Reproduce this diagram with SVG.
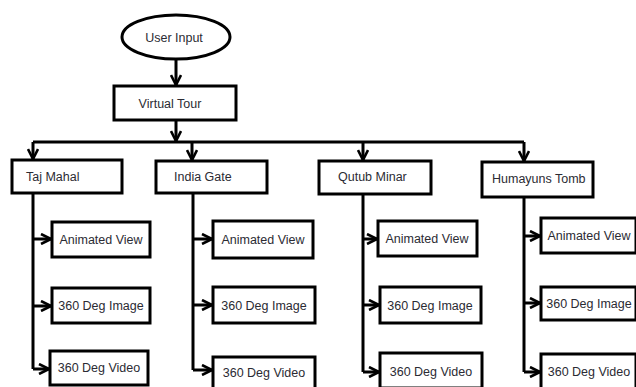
<svg xmlns="http://www.w3.org/2000/svg" width="636" height="387" viewBox="0 0 636 387">
<defs>
<marker id="arr" viewBox="0 0 12 12" refX="11" refY="6" markerWidth="12" markerHeight="12" markerUnits="userSpaceOnUse" orient="auto">
<path d="M1,1 L11,6 L1,11" fill="none" stroke="#000" stroke-width="2.6"/>
</marker>
</defs>
<style>
.box{fill:#fff;stroke:#000;stroke-width:3}
.t{font-family:"Liberation Sans",Arial,sans-serif;font-size:12.5px;fill:#2b2b33}
.c{fill:none;stroke:#000;stroke-width:3;marker-end:url(#arr)}
.l{fill:none;stroke:#000;stroke-width:3}
</style>
<rect width="636" height="387" fill="#fff"/>
<g id="connectors">
<path class="c" d="M176,59 V85"/>
<path class="c" d="M176,120 V141"/>
<path class="l" d="M33,142 H524"/>
<path class="c" d="M33,142 V159"/>
<path class="c" d="M192,142 V160"/>
<path class="c" d="M363,142 V160"/>
<path class="c" d="M524,142 V161"/>
<path class="l" d="M33,193 V369"/>
<path class="c" d="M33,239 H51"/>
<path class="c" d="M33,306 H51"/>
<path class="c" d="M33,369 H49"/>
<path class="l" d="M193,193 V370"/>
<path class="c" d="M193,239 H212"/>
<path class="c" d="M193,305 H212"/>
<path class="c" d="M193,370 H212"/>
<path class="l" d="M363,194 V372"/>
<path class="c" d="M363,239 H377"/>
<path class="c" d="M363,305 H379"/>
<path class="c" d="M363,372 H379"/>
<path class="l" d="M524,197 V372"/>
<path class="c" d="M524,236 H540"/>
<path class="c" d="M524,303 H540"/>
<path class="c" d="M524,372 H540"/>
</g>
<g id="user-input"><ellipse class="box" cx="176" cy="37" rx="54" ry="22"/><text class="t" x="174" y="41.5" text-anchor="middle">User Input</text></g>
<g id="virtual-tour"><rect class="box" x="114" y="86" width="122" height="34"/><text class="t" x="170" y="107.5" text-anchor="middle">Virtual Tour</text></g>
<g id="taj-mahal"><rect class="box" x="12" y="160" width="110" height="33"/><text class="t" x="26" y="181">Taj Mahal</text></g>
<g id="india-gate"><rect class="box" x="156" y="161" width="111" height="32"/><text class="t" x="174" y="181">India Gate</text></g>
<g id="qutub-minar"><rect class="box" x="319" y="161" width="112" height="33"/><text class="t" x="338" y="181">Qutub Minar</text></g>
<g id="humayuns-tomb"><rect class="box" x="482" y="162" width="111" height="35"/><text class="t" x="492" y="183">Humayuns Tomb</text></g>
<g id="taj-animated"><rect class="box" x="52" y="222" width="98" height="35"/><text class="t" x="101" y="244" text-anchor="middle">Animated View</text></g>
<g id="taj-image"><rect class="box" x="52" y="288" width="98" height="35"/><text class="t" x="101" y="310" text-anchor="middle">360 Deg Image</text></g>
<g id="taj-video"><rect class="box" x="50" y="351" width="98" height="34"/><text class="t" x="99" y="372" text-anchor="middle">360 Deg Video</text></g>
<g id="india-animated"><rect class="box" x="213" y="221" width="100" height="37"/><text class="t" x="263" y="244" text-anchor="middle">Animated View</text></g>
<g id="india-image"><rect class="box" x="213" y="287" width="102" height="36"/><text class="t" x="264" y="310" text-anchor="middle">360 Deg Image</text></g>
<g id="india-video"><rect class="box" x="213" y="357" width="102" height="34"/><text class="t" x="264" y="377" text-anchor="middle">360 Deg Video</text></g>
<g id="qutub-animated"><rect class="box" x="378" y="221" width="99" height="35"/><text class="t" x="427" y="243" text-anchor="middle">Animated View</text></g>
<g id="qutub-image"><rect class="box" x="380" y="287" width="101" height="36"/><text class="t" x="430" y="310" text-anchor="middle">360 Deg Image</text></g>
<g id="qutub-video"><rect class="box" x="380" y="353" width="102" height="35"/><text class="t" x="431" y="376" text-anchor="middle">360 Deg Video</text></g>
<g id="hum-animated"><rect class="box" x="541" y="218" width="95" height="35"/><text class="t" x="589" y="240" text-anchor="middle">Animated View</text></g>
<g id="hum-image"><rect class="box" x="541" y="287" width="95" height="33"/><text class="t" x="589" y="308" text-anchor="middle">360 Deg Image</text></g>
<g id="hum-video"><rect class="box" x="541" y="354" width="95" height="35"/><text class="t" x="589" y="376" text-anchor="middle">360 Deg Video</text></g>
</svg>
